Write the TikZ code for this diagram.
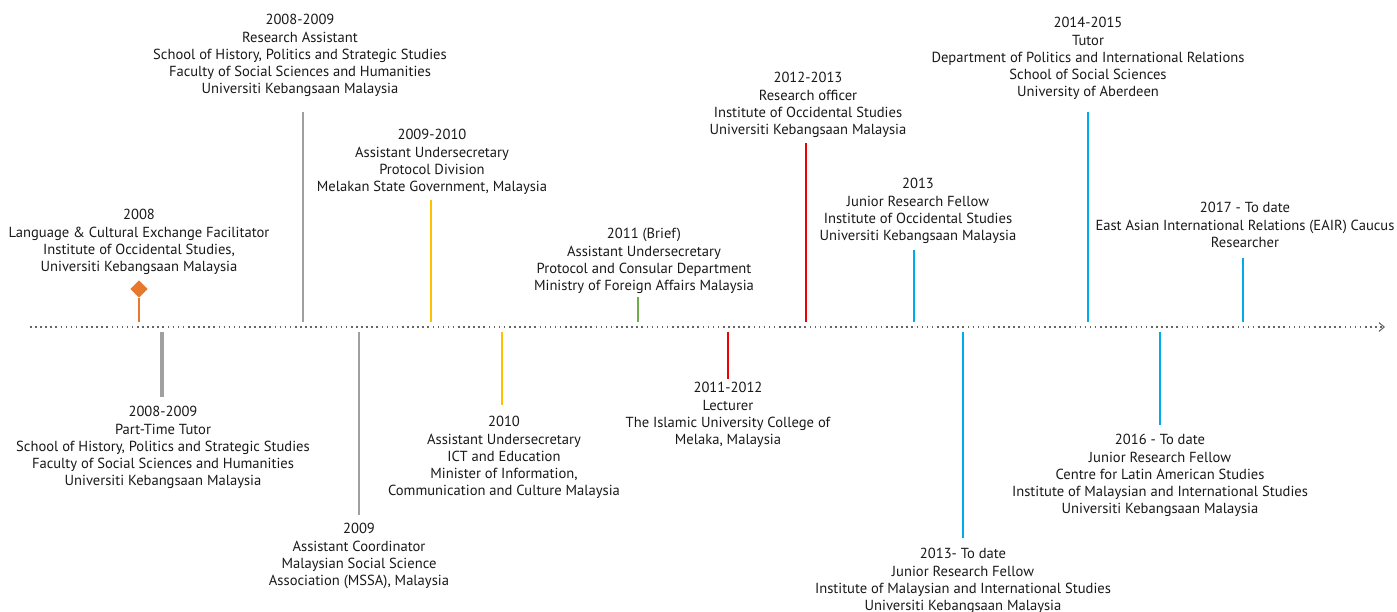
\documentclass[tikz,border=0pt]{standalone}
\usepackage{fontspec}
\setmainfont{PT Sans}
\usetikzlibrary{arrows.meta,shapes.geometric}
\definecolor{tlorange}{RGB}{232,120,46}
\definecolor{tlgray}{RGB}{160,160,160}
\definecolor{tlyellow}{RGB}{255,192,0}
\definecolor{tlgreen}{RGB}{112,173,71}
\definecolor{tlred}{RGB}{240,0,0}
\definecolor{tlblue}{RGB}{0,170,235}
\tikzset{
  lbl/.style={anchor=north, align=center, inner sep=0pt, text=black!90,
    font=\fontsize{8.3}{9.85}\selectfont},
  stick/.style={line width=1.1pt},
}
\begin{document}
\begin{tikzpicture}[x=0.02cm, y=-0.02cm]
\useasboundingbox (0,0) rectangle (1397,612);

% time axis
\coordinate (start) at (30,327);
\coordinate (end) at (1385,327);
\draw[black!60, line width=0.9pt, dotted, -{Straight Barb[length=3pt,width=5pt,line width=0.6pt]}] (start) -- (end);

% above the axis
\node (a1) [lbl] at (139,209) {2008\\Language \& Cultural Exchange Facilitator\\Institute of Occidental Studies,\\Universiti Kebangsaan Malaysia};
\node (a2) [lbl] at (300,14) {2008-2009\\Research Assistant\\School of History, Politics and Strategic Studies\\Faculty of Social Sciences and Humanities\\Universiti Kebangsaan Malaysia};
\node (a3) [lbl] at (432,129) {2009-2010\\Assistant Undersecretary\\Protocol Division\\Melakan State Government, Malaysia};
\node (a4) [lbl] at (644,228) {2011 (Brief)\\Assistant Undersecretary\\Protocol and Consular Department\\Ministry of Foreign Affairs Malaysia};
\node (a5) [lbl] at (808,72) {2012-2013\\Research officer\\Institute of Occidental Studies\\Universiti Kebangsaan Malaysia};
\node (a6) [lbl] at (918,178) {2013\\Junior Research Fellow\\Institute of Occidental Studies\\Universiti Kebangsaan Malaysia};
\node (a7) [lbl] at (1088,17) {2014-2015\\Tutor\\Department of Politics and International Relations\\School of Social Sciences\\University of Aberdeen};
\node (a8) [lbl] at (1245,202) {2017 - To date\\East Asian International Relations (EAIR) Caucus\\Researcher};

% below the axis
\node (b1) [lbl] at (163,406) {2008-2009\\Part-Time Tutor\\School of History, Politics and Strategic Studies\\Faculty of Social Sciences and Humanities\\Universiti Kebangsaan Malaysia};
\node (b2) [lbl] at (359,523) {2009\\Assistant Coordinator\\Malaysian Social Science\\Association (MSSA), Malaysia};
\node (b3) [lbl] at (504,416) {2010\\Assistant Undersecretary\\ICT and Education\\Minister of Information,\\Communication and Culture Malaysia};
\node (b4) [lbl] at (728,382) {2011-2012\\Lecturer\\The Islamic University College of\\Melaka, Malaysia};
\node (b5) [lbl] at (963,548) {2013- To date\\Junior Research Fellow\\Institute of Malaysian and International Studies\\Universiti Kebangsaan Malaysia};
\node (b6) [lbl] at (1160,434) {2016 - To date\\Junior Research Fellow\\Centre for Latin American Studies\\Institute of Malaysian and International Studies\\Universiti Kebangsaan Malaysia};

% stick ends
\coordinate (a1base) at (139,322); \coordinate (a1top) at (139,289);
\coordinate (a2base) at (303,322); \coordinate (a2top) at (303,112);
\coordinate (a3base) at (431,322); \coordinate (a3top) at (431,200);
\coordinate (a4base) at (638,322); \coordinate (a4top) at (638,297);
\coordinate (a5base) at (806,322); \coordinate (a5top) at (806,143);
\coordinate (a6base) at (914,322); \coordinate (a6top) at (914,250);
\coordinate (a7base) at (1088,322); \coordinate (a7top) at (1088,112);
\coordinate (a8base) at (1243,322); \coordinate (a8top) at (1243,258);
\coordinate (b1base) at (162,332); \coordinate (b1bot) at (162,397);
\coordinate (b2base) at (359,332); \coordinate (b2bot) at (359,515);
\coordinate (b3base) at (502,332); \coordinate (b3bot) at (502,405);
\coordinate (b4base) at (728,332); \coordinate (b4bot) at (728,379);
\coordinate (b5base) at (963,332); \coordinate (b5bot) at (963,538);
\coordinate (b6base) at (1160,332); \coordinate (b6bot) at (1160,425);

\node (dia) [diamond, fill=tlorange, inner sep=0pt, minimum size=10pt] at (a1top) {};

\path[stick]
  (a1base) edge[tlorange, line width=1.5pt] (dia)
  (a2base) edge[tlgray] (a2top)
  (a3base) edge[tlyellow] (a3top)
  (a4base) edge[tlgreen] (a4top)
  (a5base) edge[tlred] (a5top)
  (a6base) edge[tlblue] (a6top)
  (a7base) edge[tlblue] (a7top)
  (a8base) edge[tlblue] (a8top)
  (b1base) edge[tlgray, line width=2pt] (b1bot)
  (b2base) edge[tlgray] (b2bot)
  (b3base) edge[tlyellow] (b3bot)
  (b4base) edge[tlred] (b4bot)
  (b5base) edge[tlblue] (b5bot)
  (b6base) edge[tlblue, line width=1.6pt] (b6bot);
\end{tikzpicture}
\end{document}
